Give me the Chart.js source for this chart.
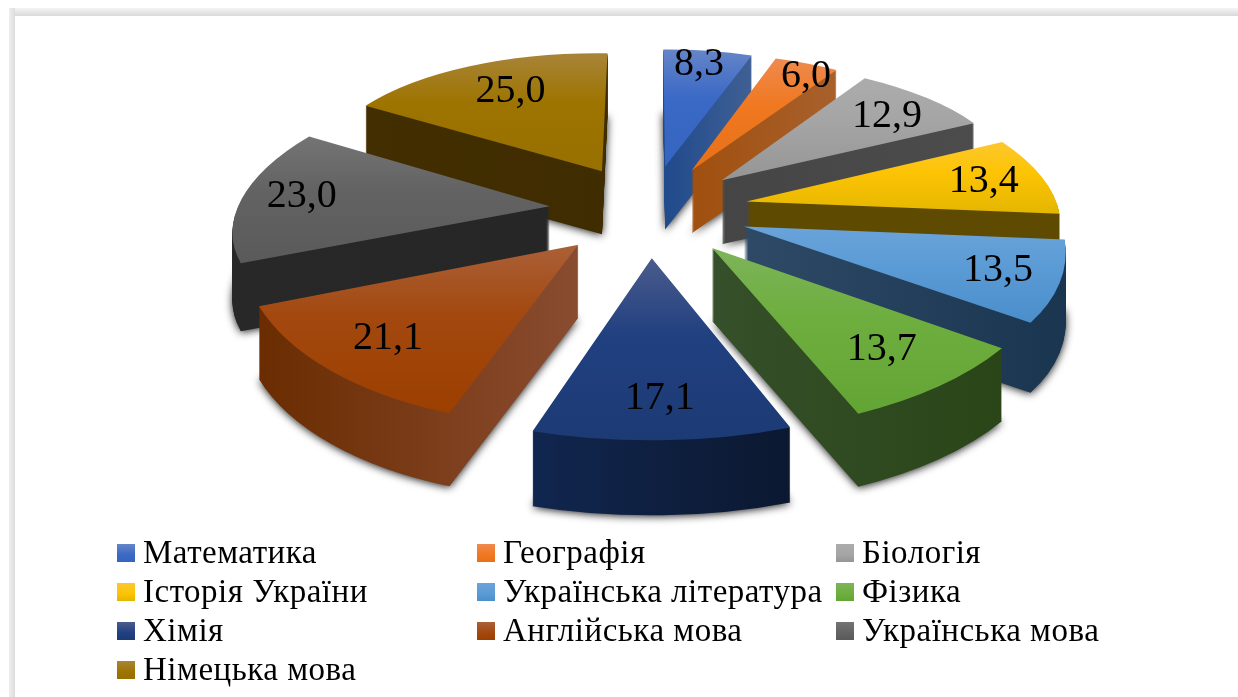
<!DOCTYPE html>
<html lang="uk">
<head>
<meta charset="utf-8">
<style>
html,body{margin:0;padding:0;background:#fff;overflow:hidden}
#wrap{position:relative;width:1238px;height:697px;background:#fff}
#bandTop{position:absolute;left:9px;top:8px;right:0;height:8px;background:linear-gradient(#f4f4f4,#d9d9d9)}
#bandLeft{position:absolute;left:9px;top:8px;bottom:0;width:6px;background:linear-gradient(90deg,#efefef,#dcdcdc)}
canvas{position:absolute;left:0;top:0}
</style>
</head>
<body>
<div id="wrap"><div id="bandTop"></div><div id="bandLeft"></div><canvas id="c" width="1238" height="697"></canvas></div>
<script src="https://cdn.jsdelivr.net/npm/chart.js@4/dist/chart.umd.min.js"></script>
<script>
const categories = ["Математика","Географія","Біологія","Історія України","Українська література","Фізика","Хімія","Англійська мова","Українська мова","Німецька мова"];
const values = [8.3,6.0,12.9,13.4,13.5,13.7,17.1,21.1,23.0,25.0];
const valueLabels = ["8,3","6,0","12,9","13,4","13,5","13,7","17,1","21,1","23,0","25,0"];

const topLight = ["#6585c8","#ef8a4f","#acacac","#fcc72f","#6aa3da","#7db45a","#4a5c8c","#ab6038","#747474","#a88438"];
const topBase  = ["#3a69c6","#f07820","#a5a5a5","#fdc404","#5b9bd5","#6eae3e","#214080","#a3480f","#636363","#9e7400"];
const topLow   = ["#3565bf","#e87018","#959595","#e4b600","#4a8ecb","#63a535","#1c3a74","#9c3f00","#5a5a5a","#977000"];
const wallLeft = ["#204a8c","#a0500f","#454545","#5e4a00","#2e4a66","#35502a","#11264f","#6a2c00","#282828","#422e00"];
const wallRight= ["#3f6094","#a8602c","#4c4c4c","#5e4a00","#1a3550","#2a4517","#0b1830","#8a4c30","#262626","#3f2c00"];
const labelReach=[0.87,0.89,0.78,0.80,0.81,0.76,0.79,0.77,0.81,0.73];
const labelSpan =[0.45,0.70,0.55,0.52,0.50,0.50,0.50,0.50,0.50,0.52];

// projection of the pie plane
const cam = {cx:649, cy:210, k:0.4615, D:2275, R:312, explode:100, depth:68};
const legendLayout = {cols:[117,477,836], rows:[553,592,631,670], box:[18,18], gap:8};
const serif = '"Liberation Serif", serif';

const persp = Y => cam.D/(cam.D-Y);
const project = (X,Y) => ({x:cam.cx+X*persp(Y), y:cam.cy+Y*cam.k*persp(Y)});

function geometry(arc){
  const a0=arc.startAngle, a1=arc.endAngle, mid=(a0+a1)/2, r=arc.outerRadius;
  const ex=cam.explode*Math.cos(mid), ey=cam.explode*Math.sin(mid);
  const at=(a,f)=>project(ex+cam.R*f*Math.cos(a), ey+cam.R*f*Math.sin(a));
  const T=at(mid,0),A=at(a0,1),B=at(a1,1);
  const p0=[r*Math.cos(a0),r*Math.sin(a0)], p1=[r*Math.cos(a1),r*Math.sin(a1)];
  const det=p0[0]*p1[1]-p1[0]*p0[1];
  const u=[A.x-T.x,A.y-T.y], v=[B.x-T.x,B.y-T.y];
  const m11=(u[0]*p1[1]-v[0]*p0[1])/det, m12=(-u[0]*p1[0]+v[0]*p0[0])/det;
  const m21=(u[1]*p1[1]-v[1]*p0[1])/det, m22=(-u[1]*p1[0]+v[1]*p0[0])/det;
  const pts=[T]; for(let t=0;t<=12;t++) pts.push(at(a0+(a1-a0)*t/12,1));
  const xs=pts.map(p=>p.x), ys=pts.map(p=>p.y);
  const s=persp(ey+cam.R*0.6*Math.sin(mid));
  return {a0,a1,mid,at,T,m11,m12,m21,m22,
    e:T.x-(m11*arc.x+m12*arc.y), f:T.y-(m21*arc.x+m22*arc.y),
    xmin:Math.min(...xs),xmax:Math.max(...xs),ymin:Math.min(...ys),ymax:Math.max(...ys),
    depth:cam.depth*Math.pow(s,0.7)};
}
// gradient whose bands are straight in screen space, axis 0 = along x, 1 = along y
function screenGradient(ctx,g,axis,from,to,stops){
  const det=g.m11*g.m22-g.m12*g.m21;
  const inv=(x,y)=>{const dx=x-g.e,dy=y-g.f;return [(g.m22*dx-g.m12*dy)/det,(-g.m21*dx+g.m11*dy)/det];};
  const o=axis===1?inv(g.T.x,from):inv(from,g.T.y);
  const iso=axis===1?[g.m22/det,-g.m21/det]:[-g.m12/det,g.m11/det];
  let n=[-iso[1],iso[0]]; const l=Math.hypot(n[0],n[1]); n=[n[0]/l,n[1]/l];
  const rate=axis===1?(g.m21*n[0]+g.m22*n[1]):(g.m11*n[0]+g.m12*n[1]);
  const t=(to-from)/rate;
  const gr=ctx.createLinearGradient(o[0],o[1],o[0]+n[0]*t,o[1]+n[1]*t);
  stops.forEach(([p,c])=>gr.addColorStop(p,c));
  return gr;
}
const plainOptions = fill => ({backgroundColor:fill,borderColor:'transparent',borderWidth:0,borderAlign:'center',offset:0,spacing:0,angle:0,circular:true,borderRadius:0,borderDash:[],borderDashOffset:0,borderJoinStyle:'round',selfJoin:false});

const pie3d = {
  id:'pie3d',
  beforeDatasetsDraw(){ return false; },
  afterDraw(chart){
    const ctx=chart.ctx, arcs=chart.getDatasetMeta(0).data;
    const items=arcs.map((arc,i)=>({arc,i,g:geometry(arc)})).sort((a,b)=>a.g.T.y-b.g.T.y);
    for(const {arc,i,g} of items){
      const saved=arc.options;
      const put=(dy)=>{ctx.setTransform(g.m11,g.m21,g.m12,g.m22,g.e,g.f+dy);};
      const wall=screenGradient(ctx,g,0,g.xmin,g.xmax,[[0,wallLeft[i]],[1,wallRight[i]]]);
      const d=Math.round(g.depth);
      arc.options=plainOptions(wall);
      for(let y=d;y>=1;y--){
        ctx.save();
        if(y===d){ctx.shadowColor='rgba(0,0,0,0.9)';ctx.shadowBlur=9;ctx.shadowOffsetY=1;}
        put(y); arc.draw(ctx);
        ctx.restore();
      }
      const top=screenGradient(ctx,g,1,g.ymin,g.ymax,[[0,topLight[i]],[0.42,topBase[i]],[1,topLow[i]]]);
      arc.options=plainOptions(top);
      ctx.save(); put(0); arc.draw(ctx); ctx.restore();
      arc.options=saved;
    }
    ctx.setTransform(1,0,0,1,0,0);
    // value labels
    ctx.fillStyle='#000'; ctx.textAlign='center'; ctx.textBaseline='middle';
    ctx.font='40px '+serif;
    for(const {i,g} of items){
      const p=g.at(g.a0+(g.a1-g.a0)*labelSpan[i],labelReach[i]);
      ctx.fillText(valueLabels[i],p.x,p.y);
    }
    // legend, three aligned columns
    ctx.textAlign='left'; ctx.font='33px '+serif; ctx.letterSpacing='0.5px';
    categories.forEach((name,i)=>{
      const col=i%3,row=Math.floor(i/3);
      const x=legendLayout.cols[col], y=legendLayout.rows[row];
      const [w,h]=legendLayout.box;
      const gr=ctx.createLinearGradient(0,y-h/2,0,y+h/2);
      gr.addColorStop(0,topLight[i]); gr.addColorStop(.6,topBase[i]); gr.addColorStop(1,topLow[i]);
      ctx.fillStyle=gr; ctx.fillRect(x,y-h/2,w,h);
      ctx.fillStyle='#000'; ctx.fillText(name,x+w+legendLayout.gap,y+1);
    });
    ctx.letterSpacing='0px';
  }
};

new Chart(document.getElementById('c'),{
  type:'pie',
  data:{labels:categories,datasets:[{data:values,backgroundColor:topBase,borderWidth:0}]},
  options:{
    responsive:false,animation:false,rotation:0,
    layout:{padding:20},
    plugins:{legend:{display:false},tooltip:{enabled:false}}
  },
  plugins:[pie3d]
});
</script>
</body>
</html>
